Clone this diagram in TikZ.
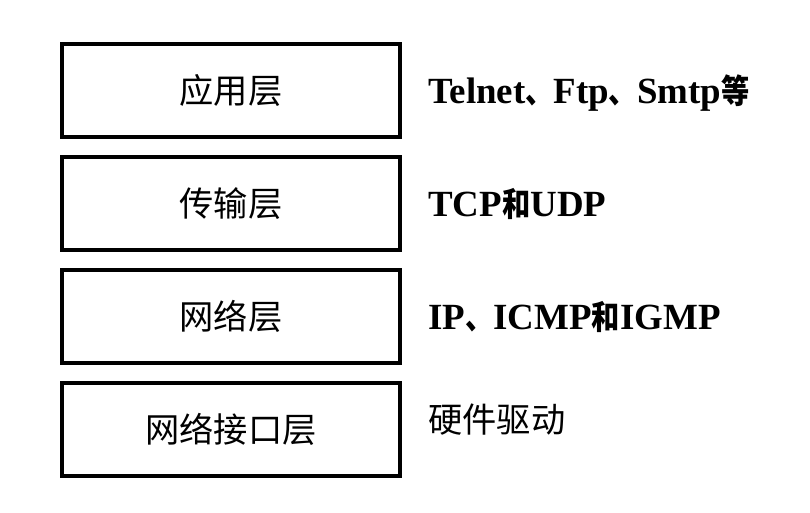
\documentclass[tikz,border=0pt]{standalone}
\usepackage{fontspec}
\setmainfont{Liberation Serif}
\newfontfamily\cjk{Noto Sans CJK SC}
\newfontfamily\cjkn[Scale=0.9,FakeStretch=0.85]{Noto Sans CJK SC}
\usepackage{tikz}
\usetikzlibrary{positioning}

\begin{document}
\begin{tikzpicture}[
    layer/.style={draw,line width=0.08cm,outer sep=0pt,minimum width=6.76cm,
      minimum height=1.86cm,font=\fontsize{19.5}{23}\selectfont\cjk},
    proto/.style={right=0.56cm of #1,inner sep=0pt,text height=0.52cm,text depth=0pt,
      font=\fontsize{21}{25}\selectfont\bfseries},
    node distance=0.4cm]
  \useasboundingbox (0,0) rectangle (16.2,-10.24);
  \node[layer] (app) at (4.62,-1.81) {应用层};
  \node[layer,below=of app] (trans) {传输层};
  \node[layer,below=of trans] (net) {网络层};
  \node[layer,below=of net] (link) {网络接口层};
  \node[proto=app] (p1) {Telnet{\cjkn 、}Ftp{\cjkn 、}Smtp{\cjkn 等}};
  \node[proto=trans] (p2) {TCP{\cjkn 和}UDP};
  \node[proto=net] (p3) {IP{\cjkn 、}ICMP{\cjkn 和}IGMP};
  \node[proto=link,yshift=0.2cm,font=\fontsize{19.5}{23}\selectfont\cjk] (p4) {硬件驱动};
\end{tikzpicture}
\end{document}
